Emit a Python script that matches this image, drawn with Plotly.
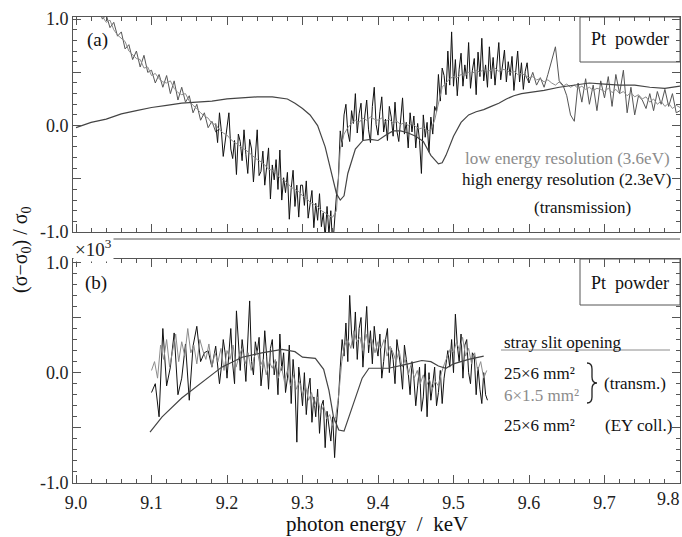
import numpy as np
import plotly.graph_objects as go

# ---------------- data ----------------
# (a) theory-like smooth curve
top_smooth_e = [9.00, 9.02, 9.04, 9.06, 9.08, 9.10, 9.12, 9.14, 9.16, 9.18, 9.20, 9.22, 9.24, 9.26,
                9.27, 9.28, 9.29, 9.30, 9.31, 9.32, 9.33, 9.34, 9.345, 9.35, 9.355, 9.36, 9.37, 9.38,
                9.39, 9.40, 9.41, 9.42, 9.43, 9.44, 9.45, 9.46, 9.47, 9.48, 9.485, 9.49, 9.50, 9.51,
                9.52, 9.53, 9.54, 9.55, 9.56, 9.57, 9.58, 9.59, 9.60, 9.62, 9.64, 9.66, 9.68, 9.70,
                9.72, 9.74, 9.76, 9.78, 9.80]
top_smooth_y = [-0.02, 0.03, 0.06, 0.11, 0.14, 0.17, 0.19, 0.21, 0.22, 0.23, 0.25, 0.26, 0.27, 0.27,
                0.26, 0.25, 0.21, 0.16, 0.10, 0.00, -0.20, -0.50, -0.64, -0.70, -0.66, -0.45, -0.22, -0.14,
                -0.13, -0.14, -0.09, -0.05, -0.05, -0.07, -0.10, -0.15, -0.28, -0.36, -0.35, -0.28, -0.10, 0.03,
                0.10, 0.13, 0.15, 0.18, 0.21, 0.25, 0.28, 0.30, 0.31, 0.33, 0.36, 0.38, 0.40, 0.39,
                0.38, 0.38, 0.36, 0.35, 0.37]

# (a) low energy resolution (3.6 eV), 9.030 .. 9.800 keV, step 5 eV
top_low_range = (9.030, 9.800)
top_low_y = [1.08, 1.03, 0.97, 0.99, 0.90, 0.85, 0.82, 0.79, 0.70, 0.66, 0.63, 0.62, 0.54, 0.55,
             0.47, 0.49, 0.44, 0.41, 0.40, 0.42, 0.35, 0.31, 0.29, 0.30, 0.23, 0.19, 0.16, 0.12, 0.09,
             0.07, 0.02, 0.01, -0.04, -0.07,
             -0.09, -0.13, -0.16, -0.18, -0.21, -0.23, -0.26, -0.29, -0.32, -0.34, -0.37, -0.41, -0.42,
             -0.45, -0.49, -0.51, -0.54, -0.58, -0.60, -0.62,
             -0.66, -0.68, -0.72, -0.74, -0.76, -0.80, -0.82, -0.85, -0.86, -0.80,
             -0.22, -0.08, -0.02, 0.02, 0.05, 0.03, 0.07, 0.05, 0.08, 0.06,
             0.05, 0.07, 0.04, 0.06, 0.02, 0.04, 0.01, 0.03, 0.00, 0.02, -0.01, -0.03, -0.02, -0.05, -0.04,
             0.05, 0.22, 0.36, 0.40, 0.44,
             0.46, 0.45, 0.48, 0.47, 0.50, 0.49, 0.52, 0.50, 0.53, 0.51, 0.52, 0.54, 0.51, 0.53, 0.52,
             0.50, 0.51, 0.48, 0.49, 0.47,
             0.45, 0.46, 0.43, 0.44, 0.41, 0.43, 0.40, 0.38, 0.41, 0.37, 0.39, 0.36, 0.38, 0.35, 0.37,
             0.34, 0.36, 0.33, 0.35, 0.34,
             0.32, 0.35, 0.31, 0.34, 0.30, 0.32, 0.28, 0.31, 0.27, 0.29, 0.25, 0.27, 0.22, 0.25, 0.20,
             0.23, 0.18, 0.21, 0.16, 0.19, 0.17]

# (a) high energy resolution (2.3 eV): coarse lead-in, fine middle, coarse tail
top_high_lead_range = (9.030, 9.190)
top_high_lead_y = [1.10, 1.00, 1.04, 0.92, 0.97, 0.84, 0.88, 0.72, 0.76, 0.62, 0.70, 0.55, 0.66, 0.50,
                   0.52, 0.40, 0.48, 0.36, 0.47, 0.30, 0.42, 0.24, 0.36, 0.22, 0.28, 0.12, 0.20, 0.05,
                   0.12, -0.02, 0.04, -0.06, -0.03]
top_high_range = (9.185, 9.600)
top_high_y = [0.02, -0.16, 0.12, -0.05, -0.29, -0.15, -0.01, 0.12, -0.22, -0.31, -0.14, -0.46, -0.08,
              -0.15, -0.33, -0.04, -0.27, -0.45, -0.13, -0.22, -0.53, -0.28, -0.04, -0.47, -0.43, -0.24,
              -0.56, -0.39, -0.21, -0.69, -0.37, -0.51, -0.32, -0.60, -0.23, -0.70, -0.49, -0.63, -0.44,
              -0.88, -0.59, -0.42, -0.76, -0.56, -0.86, -0.56,
              -0.56, -0.75, -0.52, -0.87, -0.72, -0.61, -0.96, -0.73, -0.89, -0.64, -0.95, -0.82, -1.05,
              -0.76, -1.02, -0.80, -1.14, -0.85, -0.65, -0.50,
              -0.05, -0.20, 0.10, 0.20, -0.06, -0.15, 0.14, 0.02, 0.30, -0.07, 0.11, 0.21, -0.14, 0.09,
              0.24, -0.04, -0.16, 0.18, 0.36, 0.01,
              -0.09, 0.13, 0.27, -0.06, 0.06, -0.14, 0.18, 0.08, -0.10, 0.22, -0.05, -0.15, 0.10, 0.26,
              -0.08, 0.03, -0.21, 0.12, -0.06, 0.09,
              -0.21, 0.02, -0.14, -0.45, 0.10, -0.11, 0.03, -0.25, 0.08, -0.08, 0.18, 0.13, 0.48, 0.23,
              0.54, 0.47, 0.29, 0.70, 0.38, 0.88,
              0.37, 0.62, 0.28, 0.53, 0.68, 0.37, 0.57, 0.44, 0.78, 0.35, 0.52, 0.63, 0.29, 0.69, 0.46,
              0.82, 0.42, 0.57, 0.36, 0.74,
              0.44, 0.64, 0.38, 0.58, 0.78, 0.43, 0.55, 0.71, 0.41, 0.60, 0.47, 0.65, 0.33, 0.56, 0.70,
              0.41, 0.59, 0.34, 0.51, 0.59, 0.40]
top_high_tail_range = (9.595, 9.800)
top_high_tail_y = [0.48, 0.40, 0.50, 0.38, 0.45, 0.36, 0.48, 0.62, 0.74, 0.42, 0.38, 0.28, 0.10, 0.04,
                   0.40, 0.22, 0.44, 0.20, 0.38, 0.14, 0.42, 0.26, 0.46, 0.18, 0.48, 0.30, 0.52, 0.12,
                   0.36, 0.10, 0.28, 0.24, 0.16, 0.30, 0.14, 0.32, 0.20, 0.34, 0.18, 0.30, 0.12, 0.14]

# (b) 25x6 mm2 transmission: coarse 9.100..9.190, fine 9.1925..9.545
bot_wide_lead_range = (9.100, 9.190)
bot_wide_lead_y = [-0.18, -0.10, -0.40, 0.40, -0.12, 0.05, 0.36, -0.20, -0.05, 0.26, -0.25, 0.24,
                   0.42, 0.10, 0.18, 0.20, 0.05, 0.24, -0.10]
bot_wide_range = (9.1925, 9.545)
bot_wide_y = [0.05, 0.30, 0.18, -0.05, 0.22, 0.40, 0.08, -0.10, 0.56, 0.25, 0.02, 0.30, 0.15, -0.08,
              0.35, 0.65, 0.10, -0.02, 0.28, 0.18,
              0.32, -0.12, 0.05, 0.38, 0.15, -0.15, 0.22, 0.30, -0.02, 0.10, -0.20, 0.35, 0.02, 0.18,
              -0.18, -0.05, 0.25, -0.28, 0.12, -0.10,
              -0.63, 0.05, -0.10, -0.30, 0.00, -0.38, -0.15, -0.05, -0.45, -0.22, -0.40, -0.15, -0.55,
              -0.30, -0.25, -0.68, -0.35, -0.50, -0.62, -0.40,
              -0.77, -0.45, -0.25, 0.05, 0.30, 0.15, 0.45, 0.10, 0.70, 0.35, 0.22, 0.55, 0.12, 0.40,
              0.50, 0.05, 0.30, 0.60, 0.18, 0.38,
              0.08, 0.42, 0.25, 0.15, 0.35, -0.05, 0.10, 0.30, 0.40, 0.00, 0.22, 0.12, -0.10, 0.30,
              0.18, 0.05, -0.15, 0.25, 0.12, 0.00,
              -0.20, 0.10, -0.05, -0.30, -0.12, 0.05, -0.35, -0.22, 0.08, -0.40, 0.00, -0.25, -0.10,
              0.05, -0.30, -0.18, 0.02, -0.28, -0.05, 0.10,
              0.20, 0.05, 0.30, 0.00, 0.53, 0.25, 0.10, 0.35, -0.05, 0.25, 0.30, 0.00, -0.10, 0.18,
              0.15, -0.20, 0.05, -0.15, -0.28, 0.00, -0.20, -0.25]

# (b) 6x1.5 mm2 transmission, 9.100..9.544
bot_narrow_range = (9.100, 9.544)
bot_narrow_y = [0.02, 0.10, -0.05, 0.25, 0.12, 0.30, 0.05, 0.22, 0.35, 0.10, 0.28, 0.15, 0.40, 0.18,
                0.25, 0.08, 0.30, 0.20, 0.12, 0.26,
                0.05, 0.18, 0.10, 0.22, 0.02, 0.20, 0.12, 0.25, 0.05, 0.15, 0.22, 0.08, 0.18, 0.02,
                0.14, 0.20, 0.06, 0.12, -0.02, 0.10,
                0.04, 0.12, -0.05, 0.06, -0.08, 0.02, -0.12, -0.02, -0.15, -0.08, -0.20, -0.12, -0.25,
                -0.18, -0.30, -0.22, -0.36, -0.30, -0.42, -0.38,
                -0.48, -0.40, -0.20, 0.10, 0.25, 0.30, 0.22, 0.38, 0.28, 0.32, 0.20, 0.35, 0.25, 0.30,
                0.18, 0.28, 0.22, 0.30, 0.15, 0.24,
                0.18, 0.10, 0.20, 0.05, 0.12, -0.02, 0.08, -0.05, 0.02, -0.10, -0.02, -0.12, -0.06,
                -0.15, -0.08, -0.12, 0.00, 0.08, 0.15, 0.22,
                0.18, 0.28, 0.20, 0.32, 0.15, 0.22, 0.08, 0.18, 0.02, 0.10, -0.05, 0.02]

# (b) 25x6 mm2 electron-yield collection (smooth)
bot_ey_e = [9.098, 9.114, 9.14, 9.167, 9.193, 9.22, 9.246, 9.273, 9.29, 9.30, 9.317, 9.328, 9.335,
            9.341, 9.348, 9.355, 9.366, 9.379, 9.388, 9.414, 9.44, 9.458, 9.47, 9.48, 9.49, 9.50,
            9.52, 9.54]
bot_ey_y = [-0.54, -0.40, -0.23, -0.09, 0.05, 0.14, 0.18, 0.21, 0.19, 0.14, 0.13, 0.03, -0.16,
            -0.40, -0.52, -0.53, -0.31, -0.05, 0.04, 0.04, 0.08, 0.11, 0.10, 0.06, 0.04, 0.08,
            0.12, 0.15]

x_tick_vals = [9.0, 9.1, 9.2, 9.3, 9.4, 9.5, 9.6, 9.7, 9.8]
x_tick_text = ["9.0", "9.1", "9.2", "9.3", "9.4", "9.5", "9.6", "9.7", "9.8"]
y_tick_vals = [-1.0, -0.5, 0.0, 0.5, 1.0]
y_tick_text = ["-1.0", "", "0.0", "", "1.0"]


def grid(rng, vals):
    return np.linspace(rng[0], rng[1], len(vals))


# ---------------- figure ----------------
FONT = "Liberation Serif, Times New Roman, serif"
BLACK = "#111111"
LGRAY = "#8c8c8c"
DGRAY = "#555555"
AX = "#555555"

fig = go.Figure()


def add(x, y, color, xa, ya, w=1.0):
    fig.add_trace(go.Scatter(x=x, y=y, mode="lines", line=dict(color=color, width=w),
                             xaxis=xa, yaxis=ya, showlegend=False, hoverinfo="skip"))


# top panel (a)
add(grid(top_high_lead_range, top_high_lead_y), top_high_lead_y, DGRAY, "x2", "y2")
add(grid(top_high_tail_range, top_high_tail_y), top_high_tail_y, DGRAY, "x2", "y2")
add(grid(top_high_range, top_high_y), top_high_y, BLACK, "x2", "y2")
add(grid(top_low_range, top_low_y), top_low_y, LGRAY, "x2", "y2")
add(top_smooth_e, top_smooth_y, "#444444", "x2", "y2", 1.2)

# bottom panel (b)
add(list(grid(bot_wide_lead_range, bot_wide_lead_y)) + list(grid(bot_wide_range, bot_wide_y)),
    bot_wide_lead_y + bot_wide_y, BLACK, "x", "y")
add(grid(bot_narrow_range, bot_narrow_y), bot_narrow_y, LGRAY, "x", "y")
add(bot_ey_e, bot_ey_y, "#444444", "x", "y", 1.2)

XR = [8.996, 9.8]
# the last tick (9.8) sits on the right frame edge; its label is drawn as an annotation below
common_x = dict(range=XR, showline=True, linecolor=AX, linewidth=1, mirror="allticks",
                ticks="inside", ticklen=8, tickcolor=AX, tickwidth=1,
                tickvals=x_tick_vals[:-1], ticktext=x_tick_text[:-1], showgrid=False, zeroline=False,
                minor=dict(dtick=0.02, tick0=9.0, ticks="inside", ticklen=4, tickcolor=AX,
                           showgrid=False),
                automargin=False,
                tickfont=dict(family=FONT, size=18, color="#222"))
common_y = dict(showline=True, linecolor=AX, linewidth=1, mirror="allticks",
                ticks="inside", ticklen=8, tickcolor=AX, tickwidth=1,
                tickvals=y_tick_vals, ticktext=y_tick_text, showgrid=False, zeroline=False,
                minor=dict(dtick=0.1, tick0=0.0, ticks="inside", ticklen=4, tickcolor=AX,
                           showgrid=False),
                automargin=False,
                tickfont=dict(family=FONT, size=18, color="#222"))

L, R, T, B = 73, 2, 17, 54
W, H = 682, 537
PW, PH = W - L - R, H - T - B


def px(x):
    return (x - L) / PW


def py(y):
    return (H - B - y) / PH


fig.update_layout(
    width=W, height=H, margin=dict(l=L, r=R, t=T, b=B, autoexpand=False),
    paper_bgcolor="white", plot_bgcolor="white",
    xaxis=dict(**common_x, anchor="y", domain=[0, 1], ticklabelstandoff=3),
    xaxis2=dict(**common_x, anchor="y2", domain=[0, 1], matches="x", showticklabels=False),
    yaxis=dict(**common_y, anchor="x", domain=[0, py(259)], range=[-1.0, 1.03]),
    yaxis2=dict(**common_y, anchor="x2", domain=[py(232), 1], range=[-1.0, 1.02]),
    showlegend=False,
)

ann = []


def text(s, x, y, size=17, color="#111", xanchor="center", **kw):
    ann.append(dict(text=s, x=px(x), y=py(y), xref="paper", yref="paper", showarrow=False,
                    xanchor=xanchor, yanchor="middle",
                    font=dict(family=FONT, size=size, color=color), **kw))


text("(a)", 97, 40, 19)
text("(b)", 96, 283, 19)
text("Pt  powder", 630, 39, 18)
text("Pt  powder", 630, 283, 18)
text("low energy resolution (3.6eV)", 672, 158, 17, LGRAY, "right")
text("high energy resolution (2.3eV)", 673, 180, 17, "#111", "right")
text("(transmission)", 582, 207, 17)
text("stray slit opening", 502, 342, 17, xanchor="left")
text("25×6 mm²", 502, 373, 17, xanchor="left")
text("6×1.5 mm²", 502, 395, 17, LGRAY, "left")
text("(transm.)", 602, 383, 17, xanchor="left")
text("25×6 mm²", 502, 425, 17, xanchor="left")
text("(EY coll.)", 603, 425, 17, xanchor="left")
text("×10<sup>3</sup>", 93, 248, 19, "#222", bgcolor="white", borderpad=1)
text("(σ−σ<sub>0</sub>) / σ<sub>0</sub>", 22, 249, 20, "#111", textangle=-90)
text("photon energy  /  keV", 377, 524, 21)
# label of the last x tick, kept inside the picture at its right edge
text(x_tick_text[-1], 681, 499, 18, "#222", "right", borderpad=0)
fig.update_layout(annotations=ann)


def pth(points):
    out = []
    for cmd, pts in points:
        out.append(cmd + " " + " ".join(f"{px(a):.5f},{py(b):.5f}" for a, b in pts))
    return " ".join(out)


brace = pth([("M", [(587, 363)]), ("Q", [(592, 363), (592, 369)]), ("L", [(592, 377)]),
             ("Q", [(592, 383), (597, 383)]), ("Q", [(592, 383), (592, 389)]), ("L", [(592, 397)]),
             ("Q", [(592, 403), (587, 403)])])

shapes = [
    dict(type="rect", xref="paper", yref="paper", x0=px(580), x1=1.0, y0=py(62), y1=1.0,
         line=dict(color=AX, width=1), fillcolor="white", layer="below"),
    dict(type="rect", xref="paper", yref="paper", x0=px(580), x1=1.0, y0=py(305), y1=py(259),
         line=dict(color=AX, width=1), fillcolor="white", layer="below"),
    dict(type="line", xref="paper", yref="paper", x0=px(501), x1=px(670), y0=py(350), y1=py(350),
         line=dict(color=LGRAY, width=1)),
    dict(type="line", xref="paper", yref="paper", x0=px(110), x1=1.0, y0=py(239), y1=py(239),
         line=dict(color=AX, width=1)),
    dict(type="path", xref="paper", yref="paper", path=brace, line=dict(color="#222", width=1.3)),
]
fig.update_layout(shapes=shapes)

fig.write_html("out.html", config={"displayModeBar": False},
               post_script="document.body.style.margin='0';document.body.style.overflow='hidden';")
